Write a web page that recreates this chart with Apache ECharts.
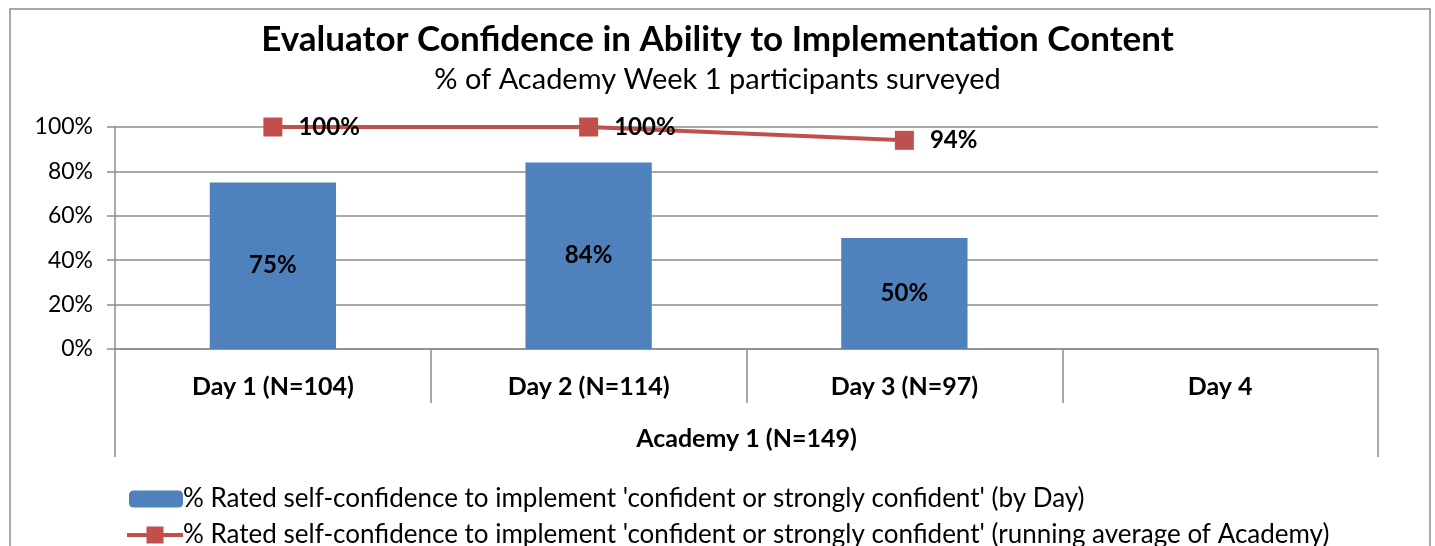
<!DOCTYPE html>
<html><head><meta charset="utf-8">
<script src="https://cdn.jsdelivr.net/npm/echarts@6/dist/echarts.min.js"></script>
<style>html,body{margin:0;padding:0;background:#fff}#c{width:1435px;height:546px}</style>
</head><body><div id="c"></div>
<script>
const categories = ['Day 1 (N=104)', 'Day 2 (N=114)', 'Day 3 (N=97)', 'Day 4'];
const groupLabels = ['Academy 1 (N=149)'];
const byDay = [75, 84, 50, null];
const runningAvg = [100, 100, 94, null];
const yTicks = [0, 20, 40, 60, 80, 100];
const seriesNames = [
  "% Rated self-confidence to implement 'confident or strongly confident' (by Day)",
  "% Rated self-confidence to implement 'confident or strongly confident' (running average of Academy)"
];
const titleText = 'Evaluator Confidence in Ability to Implementation Content';
const subtitleText = '% of Academy Week 1 participants surveyed';

const FONT = 'Lato';
const GRAY = '#8c8c8c';
const RED = '#C0504D';
const legendText = {fontFamily: FONT, fontSize: 26, color: '#000', padding: [0, 0, 0, -5]};
const lineIcon = 'path://M0,6.5 L19.5,6.5 L19.5,0 L36.5,0 L36.5,6.5 L56,6.5 L56,10.5 L36.5,10.5 L36.5,17 L19.5,17 L19.5,10.5 L0,10.5 Z';
const chart = echarts.init(document.getElementById('c'));
chart.setOption({
  animation: false,
  textStyle: {fontFamily: FONT, color: '#000'},
  title: {
    text: titleText, subtext: subtitleText, left: 'center', top: 17, itemGap: 8,
    textStyle: {fontFamily: FONT, fontSize: 35, fontWeight: 'bold', color: '#000'},
    subtextStyle: {fontFamily: FONT, fontSize: 29, color: '#000'}
  },
  graphic: [{type: 'rect', shape: {x: 10, y: 9, width: 1420, height: 560}, style: {fill: 'none', stroke: GRAY, lineWidth: 1.5}, silent: true}],
  grid: {left: 115, right: 57, top: 127, bottom: 197},
  legend: [{
    orient: 'horizontal', left: 124, top: 481, itemWidth: 54, itemHeight: 17,
    textStyle: legendText, data: [seriesNames[0]]
  }, {
    orient: 'horizontal', left: 122, top: 517, itemWidth: 56, itemHeight: 17,
    icon: lineIcon, itemStyle: {color: RED, borderWidth: 0},
    textStyle: legendText, data: [seriesNames[1]]
  }],
  xAxis: [{
    type: 'category', data: categories, position: 'bottom',
    axisLine: {lineStyle: {color: GRAY, width: 1.5}},
    axisTick: {show: true, length: 54, lineStyle: {color: GRAY, width: 1.5}},
    axisLabel: {margin: 25, fontFamily: FONT, fontSize: 25, fontWeight: 'bold', color: '#000'}
  }, {
    type: 'category', data: groupLabels, position: 'bottom',
    axisLine: {show: false},
    axisTick: {show: true, length: 108, lineStyle: {color: GRAY, width: 1.5}},
    axisLabel: {margin: 77, fontFamily: FONT, fontSize: 25, fontWeight: 'bold', color: '#000'}
  }],
  yAxis: {
    type: 'value', min: yTicks[0], max: yTicks[yTicks.length - 1], interval: 20,
    axisLine: {show: true, lineStyle: {color: GRAY, width: 1.5}},
    axisTick: {show: true, length: 8, lineStyle: {color: GRAY, width: 1.5}},
    splitLine: {lineStyle: {color: GRAY, width: 1.5}},
    axisLabel: {formatter: '{value}%', margin: 22, fontFamily: FONT, fontSize: 23, color: '#000'}
  },
  series: [{
    name: seriesNames[0], type: 'bar', data: byDay, barWidth: '40%', xAxisIndex: 0,
    itemStyle: {color: '#4F81BD'},
    label: {show: true, position: 'inside', formatter: '{c}%', fontFamily: FONT, fontSize: 24, fontWeight: 'bold', color: '#000'}
  }, {
    name: seriesNames[1], type: 'line', data: runningAvg, xAxisIndex: 0,
    symbol: 'rect', symbolSize: 19, showAllSymbol: true,
    lineStyle: {color: RED, width: 4},
    itemStyle: {color: RED},
    label: {show: true, position: 'right', distance: 16, formatter: '{c}%', fontFamily: FONT, fontSize: 24, fontWeight: 'bold', color: '#000'}
  }]
});
</script></body></html>
